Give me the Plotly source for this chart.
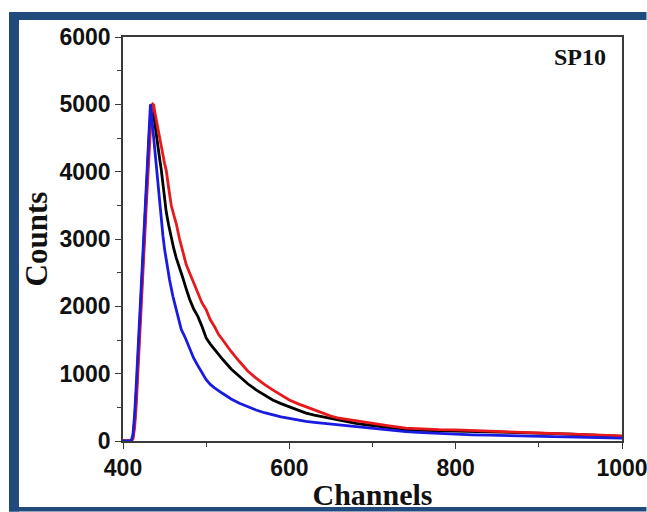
import plotly.graph_objects as go

# ---------------- data ----------------
blue_ch = [400, 405, 410, 412, 414, 416, 418, 420, 422, 424, 426, 428, 430, 432, 433, 434, 436, 438,
           440, 442, 444, 446, 448, 450, 453, 456, 460, 465, 470, 475, 480, 485, 490, 495, 500, 505,
           510, 520, 530, 540, 550, 560, 570, 580, 590, 600, 610, 620, 630, 640, 650, 660, 670, 680,
           690, 700, 720, 740, 760, 780, 800, 820, 840, 860, 880, 900, 920, 940, 960, 980, 1000]
blue_ct = [0, 0, 5, 100, 400, 850, 1350, 1900, 2400, 2900, 3450, 3950, 4450, 4900, 5000, 4880, 4620, 4300,
           4020, 3780, 3540, 3280, 3050, 2850, 2600, 2390, 2150, 1880, 1660, 1530, 1380, 1230, 1120, 1020, 910, 840,
           790, 705, 625, 560, 505, 460, 420, 385, 360, 335, 310, 290, 275, 262, 248, 236, 222, 212,
           200, 188, 162, 140, 125, 112, 100, 92, 86, 80, 75, 70, 64, 60, 55, 50, 44]

black_ch = [400, 405, 410, 412, 414, 416, 418, 420, 422, 424, 426, 428, 430, 432, 434, 435, 436, 438,
            440, 442, 444, 446, 448, 450, 452, 455, 458, 461, 464, 468, 472, 476, 480, 485, 490, 495,
            500, 505, 510, 515, 520, 530, 540, 550, 560, 570, 580, 590, 600, 610, 620, 630, 640, 650,
            660, 670, 680, 690, 700, 720, 740, 760, 780, 800, 820, 840, 860, 880, 900, 920, 940, 960,
            980, 1000]
black_ct = [0, 0, 3, 60, 300, 700, 1200, 1700, 2200, 2700, 3200, 3700, 4200, 4650, 4980, 5000, 4920, 4720,
            4520, 4330, 4200, 4030, 3800, 3580, 3400, 3200, 3000, 2860, 2720, 2580, 2420, 2260, 2110, 1960, 1850, 1700,
            1530, 1440, 1360, 1280, 1210, 1070, 960, 850, 760, 680, 610, 555, 510, 455, 415, 385, 360, 330,
            305, 282, 262, 245, 232, 200, 170, 160, 155, 150, 140, 135, 128, 125, 120, 110, 100, 90,
            80, 70]

red_ch = [400, 405, 410, 412, 414, 416, 418, 420, 422, 424, 426, 428, 430, 432, 434, 436, 437, 438,
          440, 442, 444, 446, 448, 450, 452, 455, 458, 461, 464, 468, 472, 476, 480, 485, 490, 495,
          500, 505, 510, 515, 520, 530, 540, 550, 560, 570, 580, 590, 600, 610, 620, 630, 640, 650,
          660, 670, 680, 690, 700, 720, 740, 760, 780, 800, 820, 840, 860, 880, 900, 920, 940, 960,
          980, 1000]
red_ct = [0, 0, 2, 30, 200, 550, 1000, 1500, 2000, 2500, 3000, 3500, 4000, 4450, 4850, 5000, 4990, 4900,
          4780, 4650, 4520, 4380, 4250, 4120, 4020, 3750, 3500, 3360, 3230, 3000, 2800, 2620, 2500, 2350, 2180, 2050,
          1950, 1800, 1700, 1580, 1500, 1330, 1180, 1040, 935, 840, 760, 680, 610, 555, 510, 460, 410, 370,
          338, 318, 302, 280, 262, 225, 190, 175, 168, 165, 155, 145, 138, 130, 125, 115, 105, 95,
          85, 75]

x_ticks = [400, 600, 800, 1000]
y_ticks = [0, 1000, 2000, 3000, 4000, 5000, 6000]
label_text = "SP10"
x_title = "Channels"
y_title = "Counts"

# ---------------- figure ----------------
W, H = 647, 512
L, R, T, B = 123, 25, 37, 71
pw, ph = W - L - R, H - T - B

def px(x):
    return (x - L) / pw

def py(y):
    return (H - B - y) / ph

fig = go.Figure()
fig.add_trace(go.Scatter(x=black_ch, y=black_ct, mode="lines",
                         line=dict(color="#000000", width=2.8), showlegend=False))
fig.add_trace(go.Scatter(x=red_ch, y=red_ct, mode="lines",
                         line=dict(color="#e8191c", width=2.8), showlegend=False))
fig.add_trace(go.Scatter(x=blue_ch, y=blue_ct, mode="lines",
                         line=dict(color="#1a1ae0", width=2.8), showlegend=False))

axis_common = dict(showgrid=False, zeroline=False, showline=True, linecolor="#3a3a3a",
                   linewidth=1.5, mirror=True, ticks="outside", tickcolor="#3a3a3a",
                   tickwidth=1.3, ticklen=6, automargin=False, ticklabeloverflow="allow",
                   tickfont=dict(family="Arial, Liberation Sans, sans-serif", size=23,
                                 color="#111111", weight="bold"))

fig.update_xaxes(range=[400, 1000], tickvals=x_ticks,
                 minor=dict(dtick=100, ticklen=4, tickcolor="#3a3a3a", tickwidth=1.3, ticks="outside"),
                 title=dict(text=f"<b>{x_title}</b>", standoff=4,
                            font=dict(family="Times New Roman, Liberation Serif, serif", size=30,
                                      color="#111111")),
                 **axis_common)
fig.update_yaxes(range=[0, 6000], tickvals=y_ticks,
                 minor=dict(dtick=500, ticklen=4, tickcolor="#3a3a3a", tickwidth=1.3, ticks="outside"),
                 title=dict(text=f"<b>{y_title}</b>", standoff=3,
                            font=dict(family="Times New Roman, Liberation Serif, serif", size=31,
                                      color="#111111")),
                 **axis_common)

frame_col = "#214b7d"
shapes = [
    dict(type="rect", xref="paper", yref="paper", x0=px(9), x1=px(W - 0.5), y0=py(20), y1=py(12),
         fillcolor=frame_col, line=dict(width=0), layer="above"),
    dict(type="rect", xref="paper", yref="paper", x0=px(9), x1=px(19), y0=py(H - 0.5), y1=py(12),
         fillcolor=frame_col, line=dict(width=0), layer="above"),
    dict(type="rect", xref="paper", yref="paper", x0=px(9), x1=px(W - 0.5), y0=py(H - 0.5), y1=py(507),
         fillcolor=frame_col, line=dict(width=0), layer="above"),
]

fig.update_layout(
    width=W, height=H,
    margin=dict(l=L, r=R, t=T, b=B, pad=0, autoexpand=False),
    paper_bgcolor="white", plot_bgcolor="white",
    shapes=shapes,
    annotations=[dict(text=f"<b>{label_text}</b>", xref="paper", yref="paper",
                      x=px(608), y=py(57), xanchor="right", yanchor="middle", showarrow=False,
                      font=dict(family="Times New Roman, Liberation Serif, serif", size=24,
                                color="#111111"))],
)

fig.write_html("out.html")
